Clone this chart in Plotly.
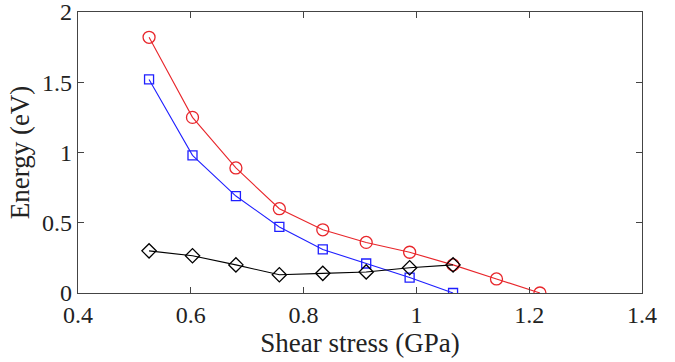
import plotly.graph_objects as go

stress = [0.526, 0.603, 0.680, 0.757, 0.834, 0.911, 0.988, 1.065, 1.142, 1.219]
red_energy = [1.82, 1.25, 0.89, 0.60, 0.45, 0.36, 0.29, 0.20, 0.10, 0.0]
blue_stress = stress[:8]
blue_energy = [1.52, 0.98, 0.69, 0.47, 0.31, 0.21, 0.11, 0.0]
black_stress = stress[:8]
black_energy = [0.30, 0.265, 0.20, 0.13, 0.14, 0.15, 0.18, 0.20]
x_ticks = [0.4, 0.6, 0.8, 1.0, 1.2, 1.4]
x_labels = ["0.4", "0.6", "0.8", "1", "1.2", "1.4"]
y_ticks = [0, 0.5, 1, 1.5, 2]
y_labels = ["0", "0.5", "1", "1.5", "2"]

fig = go.Figure()
fig.add_trace(go.Scatter(x=stress, y=red_energy, mode="lines+markers",
                         line=dict(color="#e8262b", width=1.1),
                         marker=dict(symbol="circle-open", size=12, color="#e8262b", line=dict(width=1.3))))
fig.add_trace(go.Scatter(x=blue_stress, y=blue_energy, mode="lines+markers",
                         line=dict(color="#1f1fff", width=1.1),
                         marker=dict(symbol="square-open", size=9, color="#1f1fff", line=dict(width=1.3))))
fig.add_trace(go.Scatter(x=black_stress, y=black_energy, mode="lines+markers",
                         line=dict(color="black", width=1.1),
                         marker=dict(symbol="diamond-open", size=11, color="black", line=dict(width=1.3))))

axis_common = dict(showline=True, mirror="ticks", linecolor="#444", linewidth=1.2,
                   ticks="inside", ticklen=6, tickcolor="#444", showgrid=False, zeroline=False,
                   ticklabeloverflow="allow", automargin=False,
                   tickfont=dict(family="Liberation Serif", size=24, color="#222"))
fig.update_xaxes(range=[0.4, 1.4], tickvals=x_ticks, ticktext=x_labels,
                 title=dict(text="Shear stress (GPa)", font=dict(family="Liberation Serif", size=27, color="#222"), standoff=0),
                 **axis_common)
fig.update_yaxes(range=[0, 2], tickvals=y_ticks, ticktext=y_labels,
                 title=dict(text="Energy (eV)", font=dict(family="Liberation Serif", size=27, color="#222"), standoff=4),
                 **axis_common)
fig.update_layout(width=675, height=362, margin=dict(l=78, r=33, t=12, b=69),
                  plot_bgcolor="white", paper_bgcolor="white", showlegend=False)
fig.write_html("out.html")
